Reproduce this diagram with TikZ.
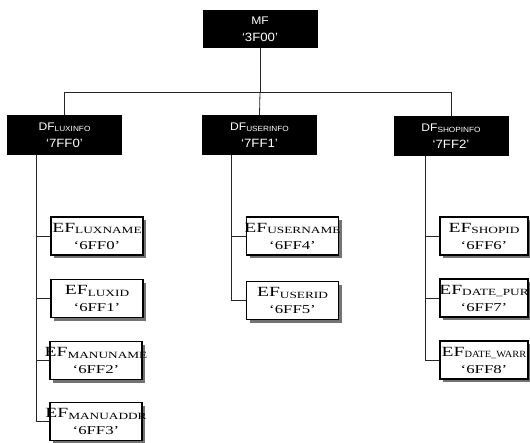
\documentclass[tikz,border=0pt]{standalone}
\usepackage{fontspec}
\usetikzlibrary{shadows}
\newfontfamily\efont[FakeStretch=1.4]{Liberation Serif}
\newfontfamily\dfont[FakeStretch=1.1]{Liberation Sans}
\newcommand\efl[2]{\makebox[0pt]{\efont\fontsize{14}{14}\selectfont EF\raisebox{-1.5pt}{\fontsize{9.5}{9.5}\selectfont #1}}\\[5pt]\makebox[0pt]{\efont\fontsize{12}{12}\selectfont ‘#2’}}
\newcommand\dfl[2]{{\fontsize{11}{11}\selectfont DF\raisebox{-1.5pt}{\fontsize{7.5}{7.5}\selectfont #1}}\\[5pt]{\fontsize{12}{12}\selectfont ‘#2’}}
\tikzset{
  efbox/.style={draw, line width=1.3pt, fill=white, minimum width=92pt, minimum height=38pt, inner sep=0pt, align=center,
    drop shadow={shadow xshift=3pt, shadow yshift=-3pt, fill=black!55, opacity=1}},
  dfbox/.style={fill=black, text=white, minimum width=115pt, minimum height=40pt, inner sep=0pt, align=center, font=\dfont},
  conn/.style={line width=0.8pt, black!85}
}
\begin{document}
\begin{tikzpicture}[x=1pt,y=-1pt]
\useasboundingbox (0,0) rectangle (530,442);
% top
\node[dfbox, minimum height=38pt] (mf) at (260,29) {{\fontsize{11}{11}\selectfont MF}\\[5pt]{\fontsize{12}{12}\selectfont ‘3F00’}};
% DF level
\node[dfbox] (df1) at (64.5,135) {\dfl{LUXINFO}{7FF0}};
\node[dfbox] (df2) at (259.5,135) {\dfl{USERINFO}{7FF1}};
\node[dfbox] (df3) at (451,136) {\dfl{SHOPINFO}{7FF2}};
\draw[conn] (mf.south) -- ++(0,44) coordinate (bus);
\draw[conn] (df1.north) |- (bus) -| (df3.north);
\draw[conn] (bus) -- (df2.north);
% EF column 1
\node[efbox] (e1) at (97,236) {\efl{LUXNAME}{6FF0}};
\node[efbox] (e2) at (97,298.5) {\efl{LUXID}{6FF1}};
\node[efbox] (e3) at (96,360.5) {\efl{MANUNAME}{6FF2}};
\node[efbox] (e4) at (96,421.5) {\efl{MANUADDR}{6FF3}};
% EF column 2
\node[efbox] (e5) at (292.5,236) {\efl{USERNAME}{6FF4}};
\node[efbox] (e6) at (292.5,300.5) {\efl{USERID}{6FF5}};
% EF column 3
\node[efbox, minimum width=88pt] (e7) at (484,236) {\efl{SHOPID}{6FF6}};
\node[efbox, minimum width=88pt] (e8) at (484,298) {\efl{DATE\_PUR}{6FF7}};
\node[efbox, minimum width=88pt] (e9) at (484,360) {\efl{\scalebox{0.78}[1]{DATE\_WARR}}{6FF8}};
% connectors
\foreach \e in {e1,e2,e3,e4}{\draw[conn] ([xshift=30pt]df1.south west) |- (\e.west);}
\foreach \e in {e5,e6}{\draw[conn] ([xshift=30pt]df2.south west) |- (\e.west);}
\foreach \e in {e7,e8,e9}{\draw[conn] ([xshift=32pt]df3.south west) |- (\e.west);}
\end{tikzpicture}
\end{document}
